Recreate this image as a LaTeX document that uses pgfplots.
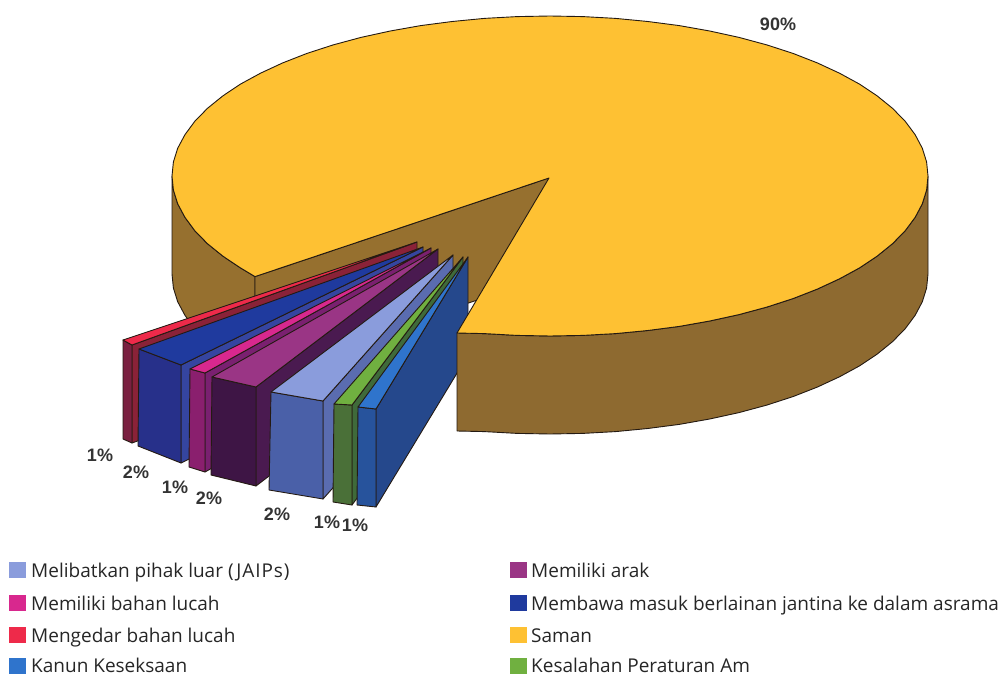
\documentclass[border=0pt]{standalone}
\usepackage{pgfplots}
\pgfplotsset{compat=1.18}
\usepackage{fontspec}
\setmainfont{Open Sans}
\newfontfamily\lab{Liberation Sans}
\definecolor{yel}{HTML}{FEC133}
\definecolor{brn}{HTML}{96702F}
\definecolor{brr}{HTML}{8E6A30}
\definecolor{edge}{HTML}{241A12}
\definecolor{as}{HTML}{8A2238}\definecolor{af}{HTML}{7A2040}\definecolor{at}{HTML}{EE2A4A}
\definecolor{bs}{HTML}{3545A0}\definecolor{bf}{HTML}{27308A}\definecolor{bt}{HTML}{1F3A9E}
\definecolor{cs}{HTML}{7A2070}\definecolor{cf}{HTML}{8A1F6E}\definecolor{ct}{HTML}{D8288E}
\definecolor{ds}{HTML}{4A1A50}\definecolor{df}{HTML}{3E1545}\definecolor{dt}{HTML}{9A3585}
\definecolor{es}{HTML}{5A6CB0}\definecolor{ef}{HTML}{4A60A8}\definecolor{et}{HTML}{8A9CDC}
\definecolor{fs}{HTML}{3F6A3A}\definecolor{ff}{HTML}{4A7038}\definecolor{ft}{HTML}{70B040}
\definecolor{gs}{HTML}{25488C}\definecolor{gf}{HTML}{27539C}\definecolor{gt}{HTML}{2F74CC}
\newcommand{\face}[2]{\addplot[fill=#1,draw=edge,line width=0.9pt,line join=round] coordinates {#2} -- cycle;}
\newcommand{\swatch}[2]{\addplot[fill=#1,draw=none] coordinates {#2} -- cycle;}
\newcommand{\leg}[3]{\node[anchor=base west,font=\fontsize{19}{19}\selectfont,text=black!85,inner sep=0pt] at (axis cs:#1,#2) {#3};}
\newcommand{\pct}[3]{\node[font=\lab\bfseries\fontsize{18}{18}\selectfont,text=black!80,inner sep=0pt] at (axis cs:#1,#2) {#3};}
\begin{document}
\begin{tikzpicture}
\begin{axis}[scale only axis,width=1004pt,height=676pt,xmin=0,xmax=1004,ymin=0,ymax=676,y dir=reverse,hide axis,clip=false,no markers,sharp plot]
% invisible frame that fixes the picture size
\addplot[draw=none,forget plot] coordinates {(0,0) (1004,676)};
% pie: outer left wall and inner cut wall
\face{brn}{(172,176)(173.4,190)(177.7,203.8)(185,217.4)(194.8,230.7)(207.4,243.6)(222.7,256)(240.3,267.8)(255,276.6)(255,374.6)(240.3,365.8)(222.7,354)(207.4,341.6)(194.8,328.7)(185,315.4)(177.7,301.8)(173.4,288)(172,274)}
\face{brn}{(549,178)(255,276.6)(255,374.6)(549,276)}
% slices, back to front: side, front, top
\face{as}{(132,345)(132,443)(417,340)(417,242)}
\face{af}{(123,340)(132,345)(132,443)(123,439)}
\face{at}{(417,242)(123,340)(132,345)}
\face{bs}{(181,365)(181,463)(423,345)(423,247)}
\face{bf}{(139,349)(181,365)(181,463)(138,446)}
\face{bt}{(423,247)(139,349)(181,365)}
\face{cs}{(205,373)(205,472)(431,346)(431,248)}
\face{cf}{(190,369)(205,373)(205,472)(189,467)}
\face{ct}{(431,248)(190,369)(205,373)}
\face{ds}{(256,387)(256,486)(438,347)(438,249)}
\face{df}{(212,377)(256,387)(256,486)(211,475)}
\face{dt}{(438,249)(212,377)(256,387)}
\face{es}{(323,401)(323,499)(453,353)(453,255)}
\face{ef}{(271,392)(323,401)(323,499)(269,490)}
\face{et}{(453,255)(271,392)(323,401)}
\face{fs}{(352,405)(352,505)(463,355)(463,257)}
\face{ff}{(334,404)(352,405)(352,505)(333,502)}
\face{ft}{(463,257)(334,404)(352,405)}
\face{gs}{(376,409)(376,507)(468,355)(468,257)}
\face{gf}{(358,407)(376,409)(376,507)(357,505)}
\face{gt}{(468,257)(358,407)(376,409)}
% pie: outer right wall and top
\face{brr}{(457,333)(484.4,333.6)(517,335.4)(550,336)(583,335.4)(615.6,333.6)(647.8,330.5)(679.3,326.4)(709.7,321)(739,314.6)(766.8,307.1)(793,298.6)(817.3,289.1)(839.5,278.8)(859.7,267.8)(877.3,256)(892.6,243.6)(905.2,230.7)(915.1,217.4)(922.3,203.8)(926.6,190)(928,176)(928,274)(926.6,288)(922.3,301.8)(915.1,315.4)(905.2,328.7)(892.6,341.6)(877.3,354)(859.7,365.8)(839.5,376.8)(817.3,387.1)(793,396.6)(766.8,405.1)(739,412.6)(709.7,419)(679.3,424.4)(647.8,428.5)(615.6,431.6)(583,433.4)(550,434)(517,433.4)(484.4,431.6)(457,431)}
\face{yel}{(549,178)(457,333)(484.4,333.6)(517,335.4)(550,336)(583,335.4)(615.6,333.6)(647.8,330.5)(679.3,326.4)(709.7,321)(739,314.6)(766.8,307.1)(793,298.6)(817.3,289.1)(839.5,278.8)(859.7,267.8)(877.3,256)(892.6,243.6)(905.2,230.7)(915.1,217.4)(922.3,203.8)(926.6,190)(928,176)(926.6,162)(922.3,148.2)(915.1,134.6)(905.2,121.3)(892.6,108.4)(877.3,96)(859.7,84.2)(839.5,73.2)(817.3,62.9)(793,53.4)(766.8,44.9)(739,37.4)(709.7,31)(679.3,25.6)(647.8,21.5)(615.6,18.4)(583,16.6)(550,16)(517,16.6)(484.4,18.4)(452.2,21.5)(420.7,25.6)(390.3,31)(361,37.4)(333.2,44.9)(307,53.4)(282.7,62.9)(260.5,73.2)(240.3,84.2)(222.7,96)(207.4,108.4)(194.8,121.3)(185,134.6)(177.7,148.2)(173.4,162)(172,176)(173.4,190)(177.7,203.8)(185,217.4)(194.8,230.7)(207.4,243.6)(222.7,256)(240.3,267.8)(255,276.6)}
% legend swatches
\swatch{et}{(9,562)(26,562)(26,578)(9,578)}
\swatch{ct}{(9,595)(26,595)(26,611)(9,611)}
\swatch{at}{(9,627)(26,627)(26,643)(9,643)}
\swatch{gt}{(9,658)(26,658)(26,674)(9,674)}
\swatch{dt}{(510,562)(527,562)(527,578)(510,578)}
\swatch{bt}{(510,595)(527,595)(527,611)(510,611)}
\swatch{yel}{(510,627)(527,627)(527,643)(510,643)}
\swatch{ft}{(510,658)(527,658)(527,674)(510,674)}
\leg{31}{577.5}{Melibatkan pihak luar {\addfontfeatures{LetterSpace=5}(JAIPs)}}
\leg{31}{610}{Memiliki bahan lucah}
\leg{31}{642}{Mengedar bahan lucah}
\leg{31}{672.5}{Kanun Keseksaan}
\leg{531}{577.5}{Memiliki arak}
\leg{531}{610}{Membawa masuk berlainan jantina ke dalam asrama}
\leg{531}{642}{Saman}
\leg{531}{672.5}{Kesalahan Peraturan Am}
\pct{778}{24}{90\%}
\pct{100}{455}{1\%}
\pct{136}{472}{2\%}
\pct{175}{487}{1\%}
\pct{209}{498}{2\%}
\pct{277}{514}{2\%}
\pct{327}{522}{1\%}
\pct{355}{525}{1\%}
\end{axis}
\end{tikzpicture}
\end{document}
